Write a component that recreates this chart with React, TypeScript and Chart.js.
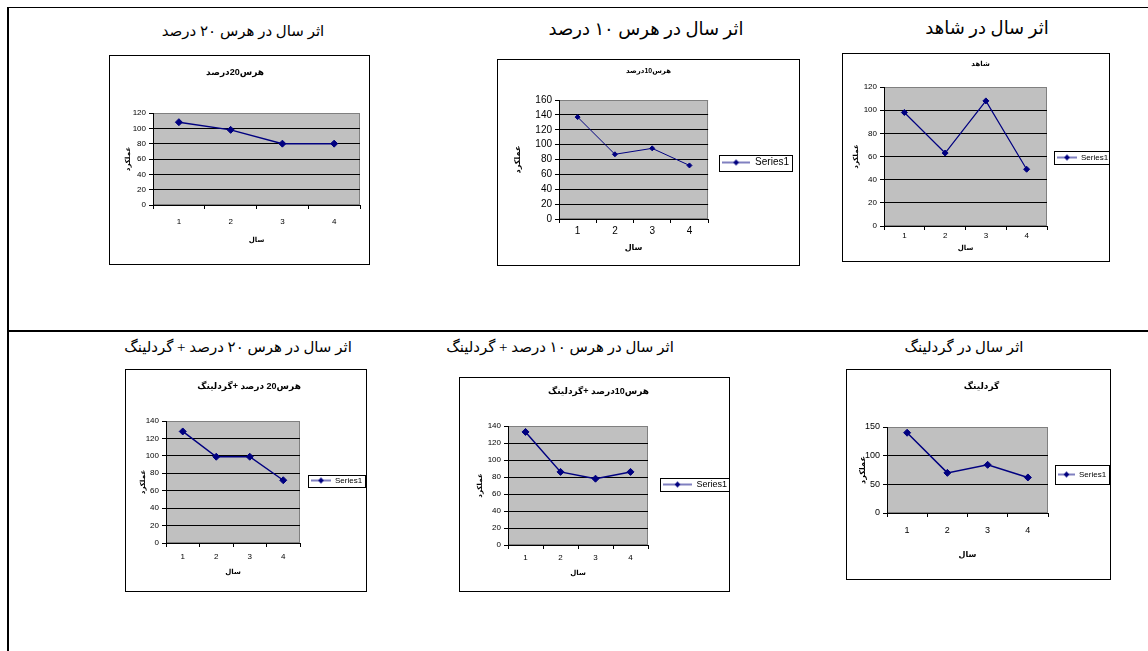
import React, { useEffect, useRef } from 'react';
import { Chart, registerables } from 'chart.js';

Chart.register(...registerables);

// ---------- data ----------
const years = ['1', '2', '3', '4'];
const pruning20 = [108, 98, 80, 80];
const pruning10 = [137, 87, 95, 72];
const control = [98, 63, 108, 49];
const pruning20Girdling = [128, 99, 99, 72];
const pruning10Girdling = [133, 86, 78, 86];
const girdling = [140, 70, 84, 62];
const seriesName = 'Series1';
const xAxisTitle = 'سال';
const yAxisTitle = 'عملکرد';

const headings = [
  'اثر سال در هرس ۲۰ درصد',
  'اثر سال در هرس ۱۰ درصد',
  'اثر سال در شاهد',
  'اثر سال در هرس ۲۰ درصد + گردلینگ',
  'اثر سال در هرس ۱۰ درصد + گردلینگ',
  'اثر سال در گردلینگ',
];
const chartTitles = [
  'هرس20درصد',
  'هرس10درصد',
  'شاهد',
  'هرس20 درصد +گردلینگ',
  'هرس10درصد +گردلینگ',
  'گردلینگ',
];
const yMaxes = [120, 160, 120, 140, 140, 150];
const ySteps = [20, 20, 20, 20, 20, 50];

// ---------- layout / style ----------
type LegendSpec = { size: number; lineLen: number; h: number; gap: number } | null;
type Spec = {
  heading: string; hx: number; hy: number; hSize: number;
  box: { x: number; y: number; w: number; h: number };
  title: string; titleY: number; titleSize: number;
  data: number[]; max: number; step: number;
  area: { l: number; r: number; t: number; b: number };
  yTitleX: number; xTitleY: number; xTickY: number;
  tickSize: number; axisTitleSize: number; legend: LegendSpec;
  lineWidth: number; pointRadius: number;
};

const specs: Spec[] = [
  {
    heading: headings[0], hx: 243, hy: 31, hSize: 15,
    box: { x: 109, y: 55, w: 261, h: 210 },
    title: chartTitles[0], titleY: 18, titleSize: 9,
    data: pruning20, max: yMaxes[0], step: ySteps[0],
    area: { l: 44, r: 251, t: 58, b: 150 },
    yTitleX: 19, xTitleY: 185, xTickY: 167,
    tickSize: 8, axisTitleSize: 7, legend: null,
    lineWidth: 1.5, pointRadius: 3.5,
  },
  {
    heading: headings[1], hx: 646, hy: 29, hSize: 18,
    box: { x: 497, y: 59, w: 303, h: 207 },
    title: chartTitles[1], titleY: 12, titleSize: 7,
    data: pruning10, max: yMaxes[1], step: ySteps[1],
    area: { l: 62, r: 211, t: 41, b: 160 },
    yTitleX: 21, xTitleY: 189, xTickY: 172,
    tickSize: 10, axisTitleSize: 8, legend: { size: 10, lineLen: 28, h: 16, gap: 14 },
    lineWidth: 1, pointRadius: 2.5,
  },
  {
    heading: headings[2], hx: 987, hy: 28, hSize: 18,
    box: { x: 842, y: 53, w: 268, h: 209 },
    title: chartTitles[2], titleY: 11, titleSize: 7,
    data: control, max: yMaxes[2], step: ySteps[2],
    area: { l: 42, r: 205, t: 34, b: 173 },
    yTitleX: 14, xTitleY: 195, xTickY: 183,
    tickSize: 8, axisTitleSize: 7, legend: { size: 8, lineLen: 20, h: 13, gap: 10 },
    lineWidth: 1.2, pointRadius: 3,
  },
  {
    heading: headings[3], hx: 238, hy: 347, hSize: 15,
    box: { x: 125, y: 369, w: 242, h: 223 },
    title: chartTitles[3], titleY: 18, titleSize: 9,
    data: pruning20Girdling, max: yMaxes[3], step: ySteps[3],
    area: { l: 41, r: 175, t: 52, b: 174 },
    yTitleX: 18, xTitleY: 203, xTickY: 188,
    tickSize: 8, axisTitleSize: 7, legend: { size: 8, lineLen: 20, h: 12, gap: 11 },
    lineWidth: 1.5, pointRadius: 3.5,
  },
  {
    heading: headings[4], hx: 560, hy: 347, hSize: 15,
    box: { x: 459, y: 377, w: 271, h: 215 },
    title: chartTitles[4], titleY: 15, titleSize: 9,
    data: pruning10Girdling, max: yMaxes[4], step: ySteps[4],
    area: { l: 49, r: 189, t: 49, b: 168 },
    yTitleX: 21, xTitleY: 196, xTickY: 181,
    tickSize: 8, axisTitleSize: 7, legend: { size: 9, lineLen: 29, h: 13, gap: 15 },
    lineWidth: 1.5, pointRadius: 3.5,
  },
  {
    heading: headings[5], hx: 964, hy: 347, hSize: 15,
    box: { x: 846, y: 369, w: 265, h: 211 },
    title: chartTitles[5], titleY: 18, titleSize: 9,
    data: girdling, max: yMaxes[5], step: ySteps[5],
    area: { l: 41, r: 202, t: 58, b: 144 },
    yTitleX: 17, xTitleY: 186, xTickY: 162,
    tickSize: 9, axisTitleSize: 8, legend: { size: 8, lineLen: 17, h: 19, gap: 10 },
    lineWidth: 1.5, pointRadius: 3.5,
  },
];

const NAVY = '#000080';
const FONT = "'Liberation Sans', 'DejaVu Sans', Arial, sans-serif";

function makeLegendSymbol(len: number, r: number) {
  const c = document.createElement('canvas');
  c.width = len;
  c.height = Math.ceil(2 * r + 2);
  const g = c.getContext('2d')!;
  const cy = c.height / 2;
  g.strokeStyle = NAVY;
  g.lineWidth = 1;
  g.beginPath();
  g.moveTo(0, cy);
  g.lineTo(len, cy);
  g.stroke();
  g.fillStyle = NAVY;
  g.beginPath();
  g.moveTo(len / 2, cy - r);
  g.lineTo(len / 2 + r, cy);
  g.lineTo(len / 2, cy + r);
  g.lineTo(len / 2 - r, cy);
  g.closePath();
  g.fill();
  return c;
}

const plotBackground = {
  id: 'plotBackground',
  beforeDraw(chart: any) {
    const { ctx, chartArea: c } = chart;
    ctx.save();
    ctx.fillStyle = '#C0C0C0';
    ctx.fillRect(c.left, c.top, c.right - c.left, c.bottom - c.top);
    ctx.strokeStyle = '#808080';
    ctx.lineWidth = 1;
    ctx.strokeRect(Math.round(c.left) + 0.5, Math.round(c.top) + 0.5, Math.round(c.right - c.left) - 1, Math.round(c.bottom - c.top) - 1);
    ctx.restore();
  },
};

function ExcelChart({ spec }: { spec: Spec }) {
  const ref = useRef<HTMLCanvasElement>(null);
  useEffect(() => {
    const canvas = ref.current!;
    const H = spec.box.h - 2;
    const a = { l: spec.area.l - 1, r: spec.area.r - 1, t: spec.area.t - 1, b: spec.area.b - 1 };
    const tf = spec.titleSize;
    const tY = spec.titleY - 1;
    const af = spec.axisTitleSize;
    const tickLen = 4;
    const lg = spec.legend;

    const legendFrame = {
      id: 'legendFrame',
      afterDraw(chart: any) {
        if (!lg) return;
        const hb = chart.legend && chart.legend.legendHitBoxes && chart.legend.legendHitBoxes[0];
        if (!hb) return;
        const ctx = chart.ctx;
        const cy = hb.top + hb.height / 2;
        ctx.save();
        ctx.strokeStyle = '#000';
        ctx.lineWidth = 1;
        const x0 = Math.round(hb.left - 3) + 0.5;
        const x1 = Math.round(hb.left + hb.width + 3) + 0.5;
        const y0 = Math.round(cy - lg.h / 2) + 0.5;
        ctx.strokeRect(x0, y0, x1 - x0, lg.h);
        ctx.restore();
      },
    };

    const config: any = {
      type: 'line',
      data: {
        labels: years,
        datasets: [
          {
            label: seriesName,
            data: spec.data,
            borderColor: NAVY,
            backgroundColor: NAVY,
            borderWidth: spec.lineWidth,
            pointStyle: 'rectRot',
            pointRadius: spec.pointRadius,
            pointBackgroundColor: NAVY,
            pointBorderColor: NAVY,
            pointBorderWidth: 1,
            tension: 0,
            fill: false,
          },
        ],
      },
      options: {
        animation: false,
        responsive: false,
        maintainAspectRatio: false,
        events: [],
        layout: { padding: { top: 0, left: 0, bottom: 0, right: 0 } },
        font: { family: FONT },
        plugins: {
          title: {
            display: true,
            text: spec.title,
            color: '#000',
            font: { family: FONT, size: tf, weight: 'bold', lineHeight: 1 },
            padding: { top: tY - tf / 2, bottom: a.t - (tY + tf / 2) },
          },
          legend: {
            display: !!lg,
            position: 'right',
            align: 'center',
            maxWidth: 400,
            labels: lg
              ? {
                  color: '#000',
                  font: { family: FONT, size: lg.size },
                  usePointStyle: true,
                  pointStyle: makeLegendSymbol(lg.lineLen, 3),
                  pointStyleWidth: lg.lineLen,
                  padding: lg.gap,
                }
              : {},
          },
          tooltip: { enabled: false },
        },
        scales: {
          x: {
            type: 'category',
            offset: true,
            grid: {
              offset: true,
              drawOnChartArea: false,
              drawTicks: true,
              tickLength: tickLen,
              color: '#000',
              tickColor: '#000',
            },
            border: { display: true, color: '#000', width: 1 },
            ticks: {
              color: '#000',
              font: { family: FONT, size: spec.tickSize },
              padding: Math.max(0, spec.xTickY - 1 - a.b - tickLen - (spec.tickSize * 1.2) / 2),
              maxRotation: 0,
              autoSkip: false,
            },
            title: {
              display: true,
              text: xAxisTitle,
              color: '#000',
              font: { family: FONT, size: af, weight: 'bold', lineHeight: 1 },
              padding: { top: 0, bottom: H - (spec.xTitleY - 1) - af / 2 },
            },
            afterFit: (scale: any) => {
              scale.height = H - a.b;
            },
          },
          y: {
            min: 0,
            max: spec.max,
            ticks: {
              stepSize: spec.step,
              autoSkip: false,
              color: '#000',
              font: { family: FONT, size: spec.tickSize },
              padding: 3,
            },
            grid: {
              color: (ctx: any) => (ctx.tick && ctx.tick.value === spec.max ? '#808080' : '#000'),
              tickColor: '#000',
              tickLength: tickLen,
              drawTicks: true,
              lineWidth: 1,
            },
            border: { display: true, color: '#000', width: 1 },
            title: {
              display: true,
              text: yAxisTitle,
              color: '#000',
              font: { family: FONT, size: af, weight: 'bold', lineHeight: 1 },
              padding: { top: spec.yTitleX - 1 - af / 2, bottom: 0 },
            },
            afterFit: (scale: any) => {
              scale.width = a.l;
            },
          },
        },
      },
      plugins: [plotBackground, legendFrame],
    };

    const chart = new Chart(canvas, config);
    let right = 0;
    for (let i = 0; i < 3; i++) {
      const d = chart.chartArea.right - a.r;
      if (Math.abs(d) < 0.5) break;
      right += d;
      (chart.options.layout as any).padding = { top: 0, left: 0, bottom: 0, right };
      chart.update();
    }
    return () => chart.destroy();
  }, [spec]);

  return (
    <div
      style={{
        position: 'absolute',
        left: spec.box.x,
        top: spec.box.y,
        width: spec.box.w,
        height: spec.box.h,
        border: '1px solid #000',
        boxSizing: 'border-box',
        background: '#fff',
      }}
    >
      <canvas ref={ref} width={spec.box.w - 2} height={spec.box.h - 2} style={{ display: 'block' }} />
    </div>
  );
}

function Heading({ spec }: { spec: Spec }) {
  const lh = Math.round(spec.hSize * 1.6);
  return (
    <div
      dir="rtl"
      style={{
        position: 'absolute',
        left: spec.hx - 250,
        width: 500,
        top: spec.hy - lh / 2,
        height: lh,
        lineHeight: `${lh}px`,
        textAlign: 'center',
        fontFamily: "'Liberation Serif', 'DejaVu Serif', 'DejaVu Sans', serif",
        fontSize: spec.hSize,
        color: '#000',
        whiteSpace: 'nowrap',
      }}
    >
      {spec.heading}
    </div>
  );
}

export default function App() {
  return (
    <div
      style={{
        position: 'absolute',
        left: 0,
        top: 0,
        width: 1148,
        height: 651,
        background: '#fff',
        overflow: 'hidden',
      }}
    >
      {/* table rules */}
      <div style={{ position: 'absolute', left: 7, top: 7, width: 1141, height: 1, background: '#000' }} />
      <div style={{ position: 'absolute', left: 7, top: 7, width: 2, height: 644, background: '#000' }} />
      <div style={{ position: 'absolute', left: 7, top: 330, width: 1141, height: 2, background: '#000' }} />
      {specs.map((s, i) => (
        <Heading key={'h' + i} spec={s} />
      ))}
      {specs.map((s, i) => (
        <ExcelChart key={'c' + i} spec={s} />
      ))}
    </div>
  );
}
